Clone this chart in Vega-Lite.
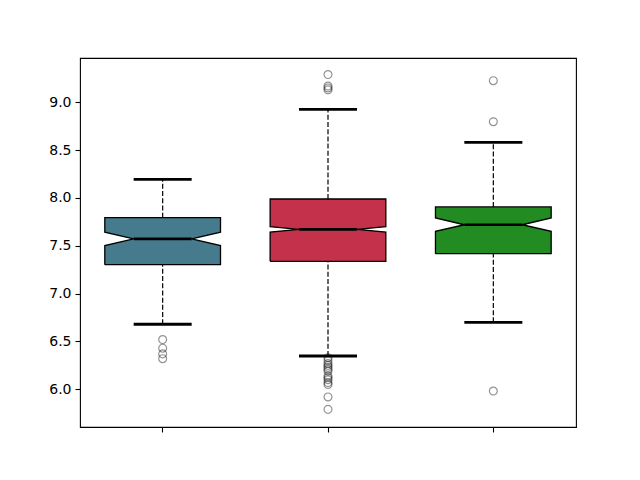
{
  "$schema": "https://vega.github.io/schema/vega-lite/v6.json",
  "width": 496,
  "height": 369,
  "autosize": {"type": "none"},
  "padding": {"left": 80, "top": 58, "right": 64, "bottom": 53},
  "background": "white",
  "config": {
    "view": {"stroke": "black", "strokeWidth": 1.1},
    "font": "DejaVu Sans",
    "axis": {
      "grid": false,
      "domain": false,
      "tickColor": "black",
      "tickSize": 5,
      "tickWidth": 1.1,
      "labelColor": "black",
      "labelFont": "DejaVu Sans",
      "labelFontSize": 14,
      "labelPadding": 4,
      "title": null
    }
  },
  "datasets": {
    "boxes": [
      {"group": "A", "lower": 6.68, "q1": 7.303, "notchLo": 7.502, "median": 7.572, "notchHi": 7.643, "q3": 7.794, "upper": 8.195},
      {"group": "B", "lower": 6.348, "q1": 7.338, "notchLo": 7.644, "median": 7.672, "notchHi": 7.7, "q3": 7.989, "upper": 8.927},
      {"group": "C", "lower": 6.7, "q1": 7.418, "notchLo": 7.652, "median": 7.72, "notchHi": 7.792, "q3": 7.906, "upper": 8.582}
    ],
    "outliers": [
      {"group": "A", "value": 6.52},
      {"group": "A", "value": 6.43},
      {"group": "A", "value": 6.37},
      {"group": "A", "value": 6.32},
      {"group": "B", "value": 9.29},
      {"group": "B", "value": 9.17},
      {"group": "B", "value": 9.15},
      {"group": "B", "value": 9.13},
      {"group": "B", "value": 6.33},
      {"group": "B", "value": 6.3},
      {"group": "B", "value": 6.27},
      {"group": "B", "value": 6.25},
      {"group": "B", "value": 6.23},
      {"group": "B", "value": 6.21},
      {"group": "B", "value": 6.19},
      {"group": "B", "value": 6.14},
      {"group": "B", "value": 6.12},
      {"group": "B", "value": 6.1},
      {"group": "B", "value": 6.07},
      {"group": "B", "value": 6.05},
      {"group": "B", "value": 5.92},
      {"group": "B", "value": 5.79},
      {"group": "C", "value": 9.226},
      {"group": "C", "value": 8.797},
      {"group": "C", "value": 5.982}
    ]
  },
  "encoding": {
    "x": {
      "field": "group",
      "type": "nominal",
      "scale": {"domain": ["A", "B", "C"], "paddingInner": 0, "paddingOuter": 0},
      "axis": {"labels": false, "ticks": true, "tickBand": "center"}
    }
  },
  "layer": [
    {
      "data": {"name": "boxes"},
      "mark": {"type": "rule", "color": "black", "strokeWidth": 1.2, "strokeDash": [5, 2.2]},
      "encoding": {
        "y": {"field": "lower", "type": "quantitative", "scale": {"domain": [5.606, 9.463], "nice": false, "zero": false}, "axis": {"values": [6, 6.5, 7, 7.5, 8, 8.5, 9], "format": ".1f"}},
        "y2": {"field": "q1"}
      }
    },
    {
      "data": {"name": "boxes"},
      "mark": {"type": "rule", "color": "black", "strokeWidth": 1.2, "strokeDash": [5, 2.2]},
      "encoding": {
        "y": {"field": "q3", "type": "quantitative"},
        "y2": {"field": "upper"}
      }
    },
    {
      "data": {"name": "boxes"},
      "transform": [
        {"fold": ["q1", "q1", "notchLo", "median", "notchHi", "q3", "q3", "notchHi", "median", "notchLo", "q1"], "as": ["stat", "v"]},
        {"window": [{"op": "row_number", "as": "vertex"}], "groupby": ["group"]}
      ],
      "mark": {"type": "line", "stroke": "black", "strokeWidth": 1.3, "strokeJoin": "miter"},
      "encoding": {
        "xOffset": {
          "field": "vertex",
          "type": "quantitative",
          "scale": {"domain": [1, 2, 3, 4, 5, 6, 7, 8, 9, 10, 11], "range": [24.8, 140.5, 140.5, 111.6, 140.5, 140.5, 24.8, 24.8, 53.7, 24.8, 24.8]}
        },
        "y": {"field": "v", "type": "quantitative"},
        "order": {"field": "vertex", "type": "quantitative"},
        "fill": {"field": "group", "type": "nominal", "scale": {"domain": ["A", "B", "C"], "range": ["#457b8c", "#c3324a", "#228b22"]}, "legend": null}
      }
    },
    {
      "data": {"name": "boxes"},
      "mark": {"type": "tick", "color": "black", "size": 58, "thickness": 2.6, "opacity": 1},
      "encoding": {"y": {"field": "median", "type": "quantitative"}}
    },
    {
      "data": {"name": "boxes"},
      "mark": {"type": "tick", "color": "black", "size": 58, "thickness": 2.8, "opacity": 1},
      "encoding": {"y": {"field": "lower", "type": "quantitative"}}
    },
    {
      "data": {"name": "boxes"},
      "mark": {"type": "tick", "color": "black", "size": 58, "thickness": 2.8, "opacity": 1},
      "encoding": {"y": {"field": "upper", "type": "quantitative"}}
    },
    {
      "data": {"name": "outliers"},
      "mark": {"type": "point", "shape": "circle", "filled": false, "stroke": "black", "strokeOpacity": 0.6, "strokeWidth": 1.2, "size": 62},
      "encoding": {"y": {"field": "value", "type": "quantitative"}}
    }
  ]
}
